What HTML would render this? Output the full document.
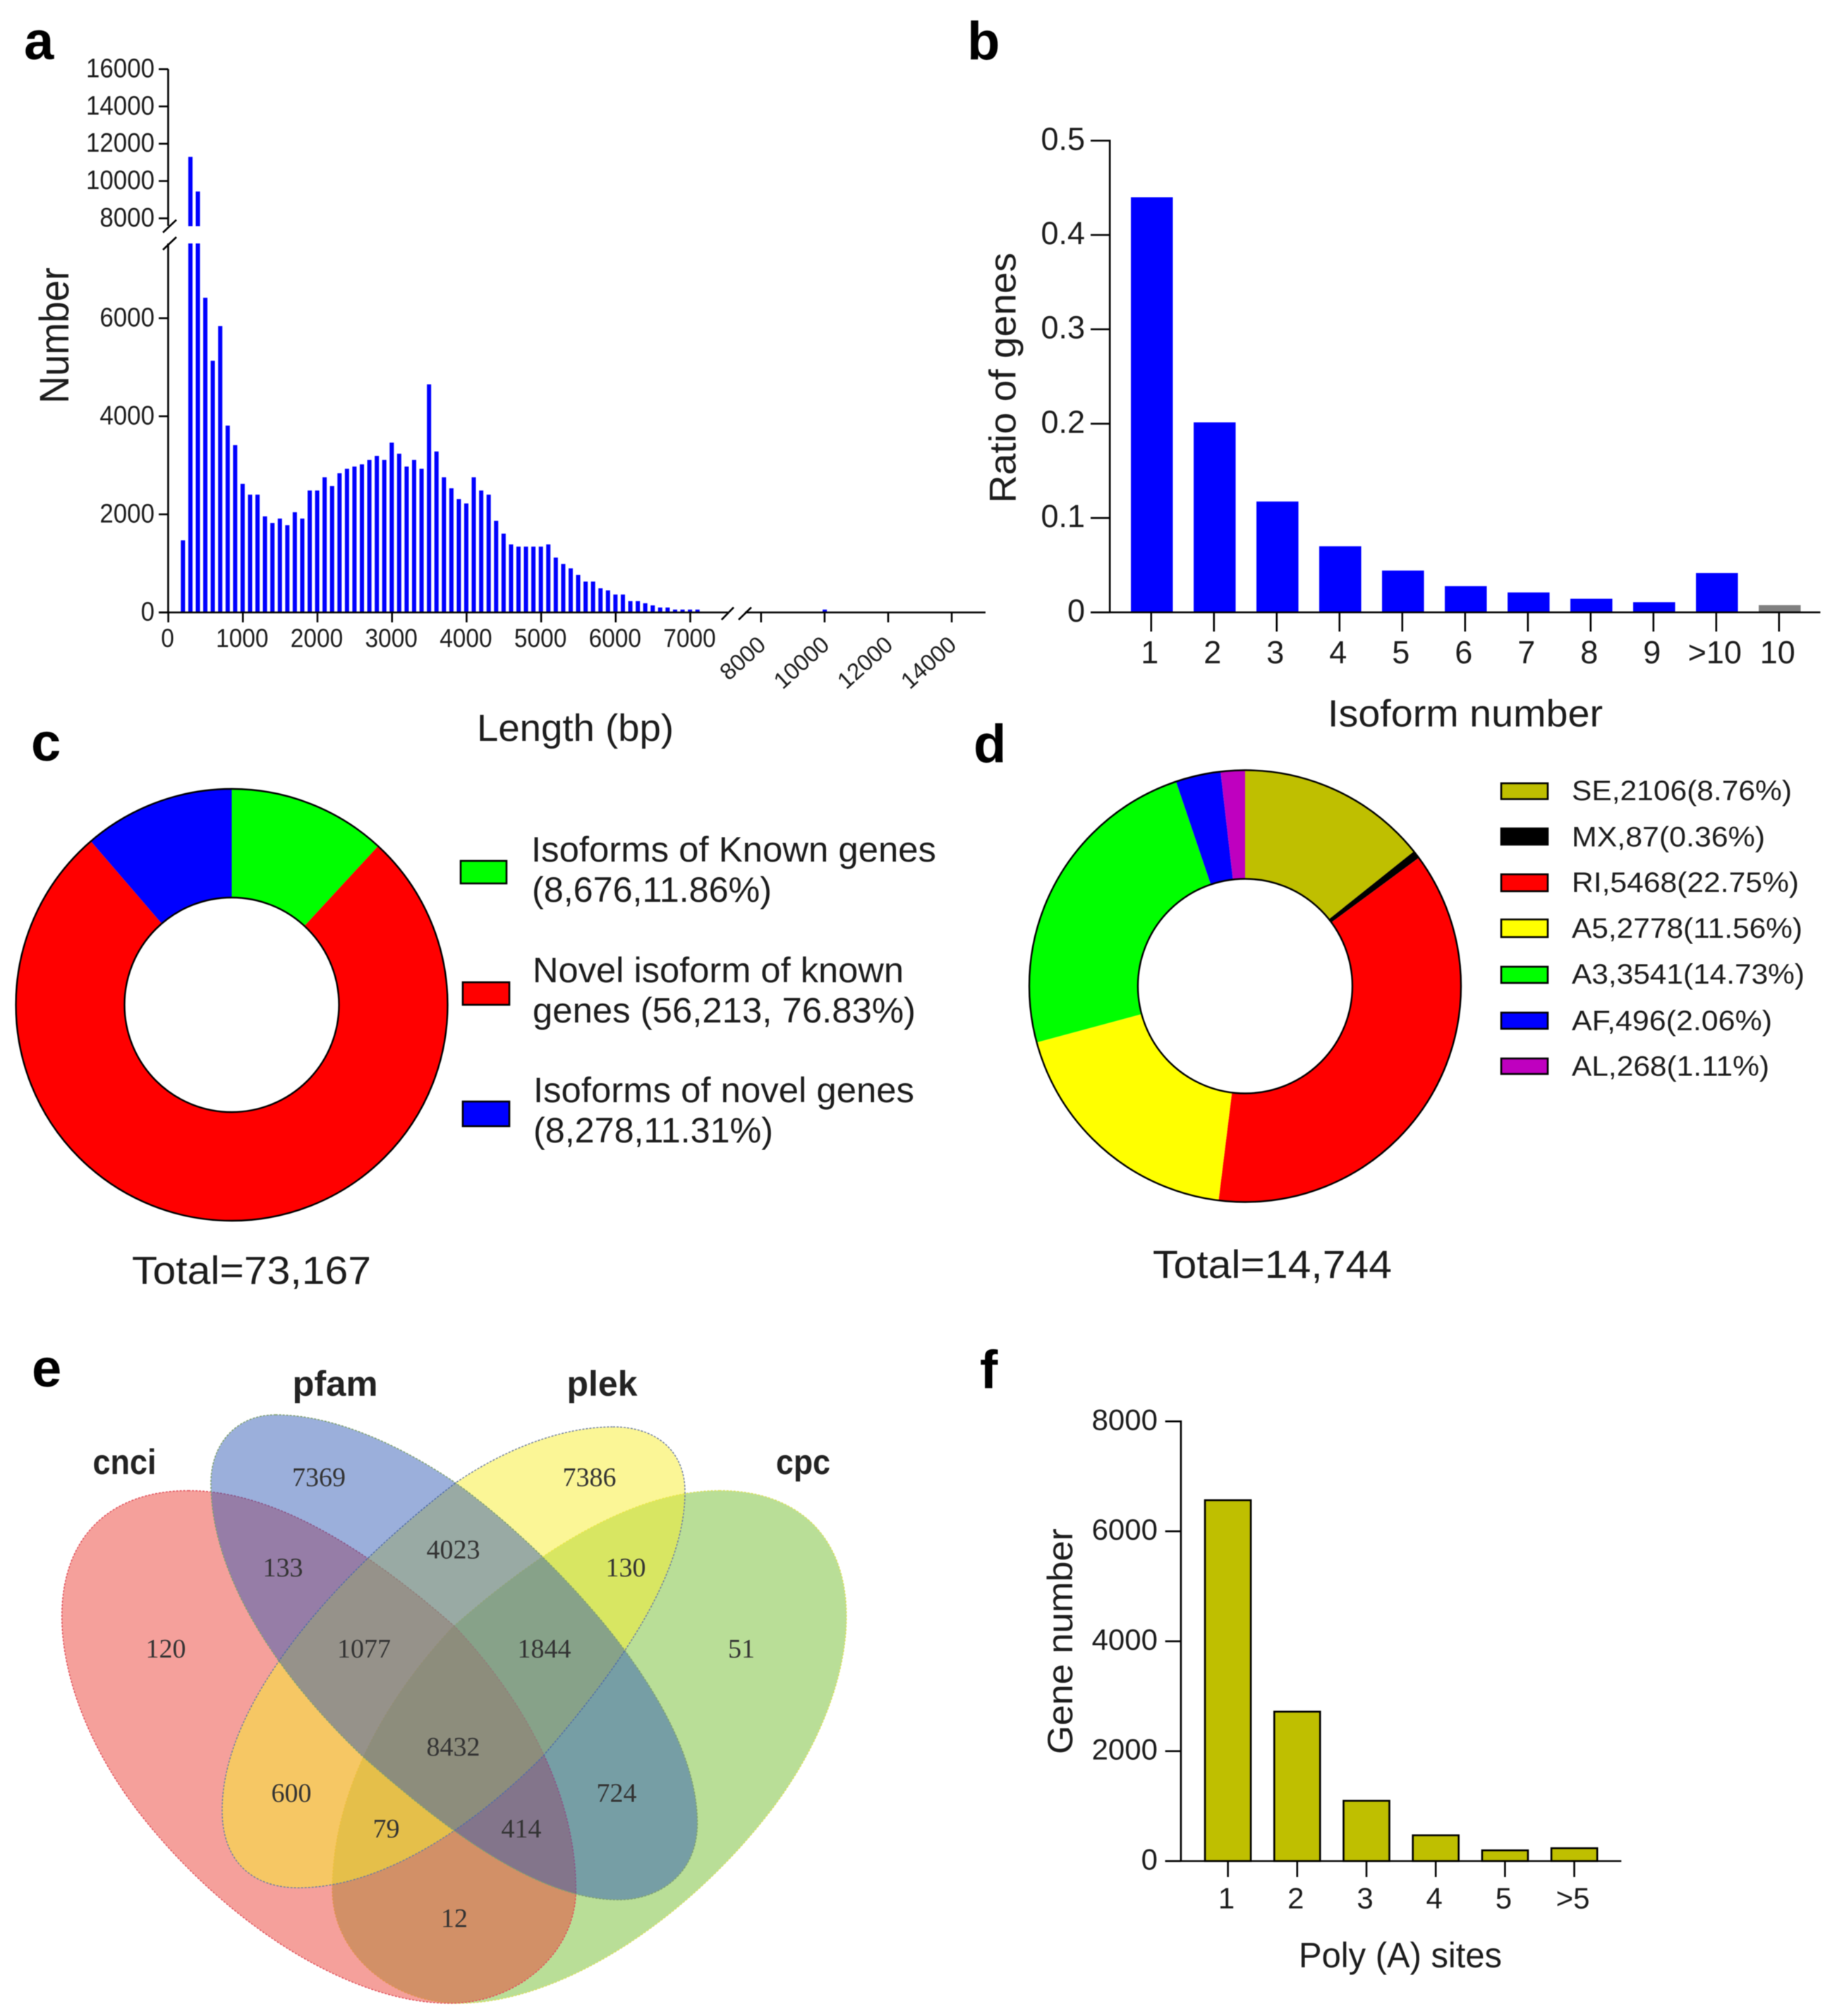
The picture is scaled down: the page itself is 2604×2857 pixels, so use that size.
<!DOCTYPE html>
<html lang="en">
<head>
<meta charset="utf-8">
<title>Isoform analysis figure</title>
<style>
html,body{margin:0;padding:0;background:#fff}
#figure{display:block;filter:blur(.6px)}
text{font-family:"Liberation Sans",Arial,sans-serif;fill:#1c1c1c}
.panel-letter{font-weight:700;font-size:76px;fill:#000}
.venn-num{font-family:"Liberation Serif",serif;font-size:38px;text-anchor:middle;fill:#333}
.venn-title{font-family:"Liberation Sans",sans-serif;font-weight:700;font-size:50px;fill:#222}
.axis{stroke:#000;stroke-width:2.6;fill:none}
.venn-shape{stroke-width:1.5;stroke-dasharray:3 2;vector-effect:non-scaling-stroke}
.swatch{stroke:#000;stroke-width:2.6}
</style>
</head>
<body>
<svg id="figure" xmlns="http://www.w3.org/2000/svg" width="2604" height="2857" viewBox="0 0 2604 2857">
<rect width="2604" height="2857" fill="#fff"/>

<text class="panel-letter" x="34" y="84">a</text>
<text class="panel-letter" x="1371" y="84">b</text>
<text class="panel-letter" x="44" y="1078">c</text>
<text class="panel-letter" x="1380" y="1080">d</text>
<text class="panel-letter" x="45" y="1965">e</text>
<text class="panel-letter" x="1389" y="1967">f</text>

<!-- Panel a -->
<g id="panel-a">
  <text transform="translate(97,475.5) rotate(-90)" text-anchor="middle" font-size="58" textLength="193" lengthAdjust="spacingAndGlyphs">Number</text>
  <text x="815.5" y="1050" text-anchor="middle" font-size="54" textLength="279" lengthAdjust="spacingAndGlyphs">Length (bp)</text>
  <g id="a-bars"></g>
  <path class="axis" d="M238.4 98V320M238.4 345V869M225 867.9H1032M1056 867.9H1397"/>
  <path class="axis" d="M231 329.5L250 311.6M231 354L250 336M1022.8 878.3L1040 860.7M1047 878.3L1065 860.7"/>
  <g id="a-ticks"></g>
</g>

<!-- Panel b -->
<g id="panel-b">
  <text transform="translate(1439.5,535.5) rotate(-90)" text-anchor="middle" font-size="53" textLength="355" lengthAdjust="spacingAndGlyphs">Ratio of genes</text>
  <text x="2077" y="1029.5" text-anchor="middle" font-size="54" textLength="390" lengthAdjust="spacingAndGlyphs">Isoform number</text>
  <g id="b-bars"></g>
  <path class="axis" d="M1573.2 198V869M1546 867.8H2580.4"/>
  <g id="b-ticks"></g>
</g>

<!-- Panel c -->
<g id="panel-c">
  <g id="c-slices"></g>
  <circle cx="328.5" cy="1424" r="306" fill="none" stroke="#000" stroke-width="2.4"/>
  <circle cx="328.5" cy="1424" r="152" fill="#fff" stroke="#000" stroke-width="2.4"/>
  <rect class="swatch" x="653" y="1220" width="65" height="32" fill="#00ff00"/>
  <rect class="swatch" x="656" y="1392" width="66" height="32" fill="#ff0000"/>
  <rect class="swatch" x="656" y="1561" width="66" height="35" fill="#0000ff"/>
  <text x="753" y="1221" font-size="50" textLength="574" lengthAdjust="spacingAndGlyphs">Isoforms of Known genes</text>
  <text x="754" y="1278" font-size="50" textLength="340" lengthAdjust="spacingAndGlyphs">(8,676,11.86%)</text>
  <text x="755" y="1392" font-size="50" textLength="526" lengthAdjust="spacingAndGlyphs">Novel isoform of known</text>
  <text x="755" y="1449" font-size="50" textLength="543" lengthAdjust="spacingAndGlyphs">genes (56,213, 76.83%)</text>
  <text x="756" y="1562" font-size="50" textLength="540" lengthAdjust="spacingAndGlyphs">Isoforms of novel genes</text>
  <text x="756" y="1619" font-size="50" textLength="340" lengthAdjust="spacingAndGlyphs">(8,278,11.31%)</text>
  <text x="187" y="1819.5" font-size="56" textLength="339" lengthAdjust="spacingAndGlyphs">Total=73,167</text>
</g>

<!-- Panel d -->
<g id="panel-d">
  <g id="d-slices"></g>
  <circle cx="1765" cy="1397.5" r="306" fill="none" stroke="#000" stroke-width="2.4"/>
  <circle cx="1765" cy="1397.5" r="152" fill="#fff" stroke="#000" stroke-width="2.4"/>
  <rect class="swatch" x="2128" y="1110" width="66" height="22.5" fill="#bfbf00"/>
  <rect class="swatch" x="2128" y="1174" width="66" height="23" fill="#000"/>
  <rect class="swatch" x="2128" y="1239" width="66" height="24" fill="#ff0000"/>
  <rect class="swatch" x="2128" y="1303" width="66" height="25" fill="#ffff00"/>
  <rect class="swatch" x="2128" y="1370" width="66" height="23" fill="#00ff00"/>
  <rect class="swatch" x="2128" y="1435" width="66" height="23" fill="#0000ff"/>
  <rect class="swatch" x="2128" y="1500" width="66" height="22" fill="#bf00bf"/>
  <text x="2228" y="1134" font-size="40" textLength="312" lengthAdjust="spacingAndGlyphs">SE,2106(8.76%)</text>
  <text x="2228" y="1199.5" font-size="40" textLength="274" lengthAdjust="spacingAndGlyphs">MX,87(0.36%)</text>
  <text x="2228" y="1264" font-size="40" textLength="322" lengthAdjust="spacingAndGlyphs">RI,5468(22.75%)</text>
  <text x="2228" y="1329" font-size="40" textLength="327" lengthAdjust="spacingAndGlyphs">A5,2778(11.56%)</text>
  <text x="2228" y="1394" font-size="40" textLength="330" lengthAdjust="spacingAndGlyphs">A3,3541(14.73%)</text>
  <text x="2228" y="1460" font-size="40" textLength="284" lengthAdjust="spacingAndGlyphs">AF,496(2.06%)</text>
  <text x="2228" y="1524.5" font-size="40" textLength="280" lengthAdjust="spacingAndGlyphs">AL,268(1.11%)</text>
  <text x="1634" y="1811" font-size="56" textLength="339" lengthAdjust="spacingAndGlyphs">Total=14,744</text>
</g>

<!-- Panel e -->
<g id="panel-e">
  <g transform="translate(0,1900) scale(0.7972,0.6105)">
    <path class="venn-shape" transform="translate(1615,0) scale(-1,1)" fill="#73bd2f" fill-opacity=".5" stroke="#d8e060" d="M335 348C480 348 640 470 810 665C900 790 1022 1010 1024 1270C1026 1420 920 1538 800 1538C620 1538 400 1350 250 1100C160 950 110 780 110 640C110 450 200 348 335 348Z"/>
    <path class="venn-shape" fill="#ec4137" fill-opacity=".5" stroke="#e0505a" d="M335 348C480 348 640 470 810 665C900 790 1022 1010 1024 1270C1026 1420 920 1538 800 1538C620 1538 400 1350 250 1100C160 950 110 780 110 640C110 450 200 348 335 348Z"/>
    <path class="venn-shape" fill="#f7ed2d" fill-opacity=".5" stroke="#6f7fa0" d="M1090 200C1170 200 1218 260 1218 350C1218 560 1080 790 965 965C870 1090 700 1270 530 1270C450 1270 395 1210 395 1090C395 830 610 530 810 330C900 250 1000 200 1090 200Z"/>
    <path class="venn-shape" fill="#2e58b4" fill-opacity=".48" stroke="#7fa070" d="M490 172C600 172 720 250 810 330C960 470 1240 830 1240 1120C1240 1240 1170 1298 1100 1298C950 1298 780 1120 645 965C520 810 375 570 375 330C375 240 420 172 490 172Z"/>
  </g>
  <text class="venn-title" x="414.5" y="1978" textLength="121" lengthAdjust="spacingAndGlyphs">pfam</text>
  <text class="venn-title" x="803.5" y="1978" textLength="100" lengthAdjust="spacingAndGlyphs">plek</text>
  <text class="venn-title" x="131.5" y="2089" textLength="90" lengthAdjust="spacingAndGlyphs">cnci</text>
  <text class="venn-title" x="1100" y="2089" textLength="77" lengthAdjust="spacingAndGlyphs">cpc</text>
  <text class="venn-num" x="452" y="2106">7369</text>
  <text class="venn-num" x="835.5" y="2106">7386</text>
  <text class="venn-num" x="401" y="2234">133</text>
  <text class="venn-num" x="642.5" y="2208.5">4023</text>
  <text class="venn-num" x="887" y="2234">130</text>
  <text class="venn-num" x="235" y="2349">120</text>
  <text class="venn-num" x="516" y="2349">1077</text>
  <text class="venn-num" x="771.5" y="2349">1844</text>
  <text class="venn-num" x="1051" y="2349">51</text>
  <text class="venn-num" x="642.5" y="2488">8432</text>
  <text class="venn-num" x="413" y="2553.5">600</text>
  <text class="venn-num" x="874" y="2553.5">724</text>
  <text class="venn-num" x="547.5" y="2604">79</text>
  <text class="venn-num" x="739" y="2604">414</text>
  <text class="venn-num" x="644" y="2731">12</text>
</g>

<!-- Panel f -->
<g id="panel-f">
  <text transform="translate(1520,2326) rotate(-90)" text-anchor="middle" font-size="50" textLength="320" lengthAdjust="spacingAndGlyphs">Gene number</text>
  <text x="1985" y="2788" text-anchor="middle" font-size="50" textLength="288" lengthAdjust="spacingAndGlyphs">Poly (A) sites</text>
  <g id="f-bars"></g>
  <path class="axis" d="M1674 2013V2638.5M1651.7 2637.5H2298.3"/>
  <g id="f-ticks"></g>
</g>
</svg>

<script>
// Panel a data
const aBins = [200,300,400,500,600,700,800,900,1000,1100,1200,1300,1400,1500,1600,1700,1800,1900,2000,2100,2200,2300,2400,2500,2600,2700,2800,2900,3000,3100,3200,3300,3400,3500,3600,3700,3800,3900,4000,4100,4200,4300,4400,4500,4600,4700,4800,4900,5000,5100,5200,5300,5400,5500,5600,5700,5800,5900,6000,6100,6200,6300,6400,6500,6600,6700,6800,6900,7000,7100];
const aCounts = [1471,11296,9438,6417,5132,5839,3809,3411,2621,2402,2402,1959,1824,1914,1779,2043,1914,2486,2486,2756,2576,2839,2929,2974,3019,3109,3192,3109,3462,3237,2974,3109,2929,4651,3282,2756,2531,2312,2222,2756,2486,2402,1869,1606,1387,1342,1342,1342,1342,1387,1118,989,899,764,629,629,493,450,365,365,230,230,187,144,100,100,58,58,58,58];
const aLongBins = [10000];
const aLongCounts = [58];
const aLowerTicks = [0,2000,4000,6000];
const aUpperTicks = [8000,10000,12000,14000,16000];
const aXTicksNear = [0,1000,2000,3000,4000,5000,6000,7000];
const aXTicksFar = [8000,10000,12000,14000];

// Panel b data
const bCategories = ['1','2','3','4','5','6','7','8','9','>10','10'];
const bRatios = [0.44,0.2014,0.1175,0.07,0.0443,0.0278,0.0211,0.0144,0.0108,0.0417,0.0077];
const bYTicks = [0,0.1,0.2,0.3,0.4,0.5];
const bYTickLabels = ['0','0.1','0.2','0.3','0.4','0.5'];

// Panel c data
const cLabels = ['known','novel-isoform','novel-genes'];
const cCounts = [8676,56213,8278];

// Panel d data
const dLabels = ['se','mx','ri','a5','a3','af','al'];
const dCounts = [2106,87,5468,2778,3541,496,268];

// Panel f data
const fCategories = ['1','2','3','4','5','>5'];
const fCounts = [6566,2719,1097,470,196,235];
const fYTicks = [0,2000,4000,6000,8000];

// Colours (style, kept apart from the data)
const cColors = ['#00ff00','#ff0000','#0000ff'];
const dColors = ['#bfbf00','#000000','#ff0000','#ffff00','#00ff00','#0000ff','#bf00bf'];

const SVGNS = 'http://www.w3.org/2000/svg';
function mk(tag, parentId, props) {
  const node = document.createElementNS(SVGNS, tag);
  for (const k in props) node.setAttribute(k, props[k]);
  document.getElementById(parentId).appendChild(node);
  return node;
}

// ---- Panel a scales ----
const axLow = v => 238.6 + 0.1057 * v;
const axFar = v => 1078.8 + (v - 8000) * 0.04505;
const ayLow = v => 867.9 - 0.0695 * v;
const ayUp = v => 309.4 - (v - 8000) * 0.02643;
const aBreakV = 7500;
const aLowerTop = 345;
const aUpperBottom = 320.5;
const aBarW = 6;

aBins.forEach((bin, i) => {
  const v = aCounts[i];
  const x = axLow(bin) - aBarW / 2 - 0.4;
  const top = v > aBreakV ? aLowerTop : ayLow(v);
  const bar = mk('rect', 'a-bars', {x: x, y: top, width: aBarW, height: ayLow(0) - top, fill: '#0000ff'});
  
  
  if (v > aBreakV) {
    const upTop = ayUp(v);
    const upper = mk('rect', 'a-bars', {x: x, y: upTop, width: aBarW, height: aUpperBottom - upTop, fill: '#0000ff'});
    
    
  }
});
aLongBins.forEach((bin, i) => {
  const top = ayLow(aLongCounts[i]);
  const bar = mk('rect', 'a-bars', {x: axFar(bin) - 2.8, y: top, width: aBarW, height: ayLow(0) - top, fill: '#0000ff'});
  
  
});
aLowerTicks.concat(aUpperTicks).forEach(v => {
  const y = v >= 8000 ? ayUp(v) : ayLow(v);
  const mark = mk('line', 'a-ticks', {x1: 225, x2: 238.4, y1: y, y2: y, class: 'axis'});
  
  
  const label = mk('text', 'a-ticks', {x: 219, y: y + 11.5, 'text-anchor': 'end', 'font-size': 38, textLength: String(v).length * 19.4, lengthAdjust: 'spacingAndGlyphs'});
  label.textContent = v;
  
  
});
aXTicksNear.forEach(v => {
  const x = axLow(v);
  const mark = mk('line', 'a-ticks', {x1: x, x2: x, y1: 867.9, y2: 882, class: 'axis'});
  
  
  const label = mk('text', 'a-ticks', {x: x - 1, y: 917, 'text-anchor': 'middle', 'font-size': 37, textLength: String(v).length * 18.6, lengthAdjust: 'spacingAndGlyphs'});
  label.textContent = v;
  
  
});
aXTicksFar.forEach(v => {
  const x = axFar(v);
  const mark = mk('line', 'a-ticks', {x1: x, x2: x, y1: 867.9, y2: 882, class: 'axis'});
  
  
  const label = mk('text', 'a-ticks', {'text-anchor': 'end', 'dominant-baseline': 'central', 'font-size': 33, transform: 'translate(' + (x + 1) + ',908) rotate(-42)'});
  label.textContent = v;
  
  
});

// ---- Panel b scales ----
const bx = i => 1632.8 + i * 89;
const by = v => 867.8 - v * 1337;
const bBarW = 59.5;
const bBarColor = c => c === '10' ? '#808080' : '#0000ff';
bCategories.forEach((cat, i) => {
  const top = by(bRatios[i]);
  const bar = mk('rect', 'b-bars', {x: bx(i) - bBarW / 2, y: top, width: bBarW, height: by(0) - top, fill: bBarColor(cat)});
  
  
  const mark = mk('line', 'b-ticks', {x1: bx(i) - 1, x2: bx(i) - 1, y1: 867.8, y2: 895, class: 'axis'});
  
  
  const label = mk('text', 'b-ticks', {x: bx(i) - 3, y: 940, 'text-anchor': 'middle', 'font-size': 45});
  label.textContent = cat;
  
  
});
bYTicks.forEach((v, i) => {
  const y = by(v);
  const mark = mk('line', 'b-ticks', {x1: 1546, x2: 1573.2, y1: y, y2: y, class: 'axis'});
  
  
  const label = mk('text', 'b-ticks', {x: 1538, y: y + 13, 'text-anchor': 'end', 'font-size': 45});
  label.textContent = bYTickLabels[i];
  
  
});

// ---- Donuts ----
function ringSlice(cx, cy, r0, r1, a0, a1) {
  const pt = (r, a) => (cx + r * Math.sin(a)).toFixed(2) + ' ' + (cy - r * Math.cos(a)).toFixed(2);
  const large = (a1 - a0) > Math.PI ? 1 : 0;
  return 'M' + pt(r1, a0) + 'A' + r1 + ' ' + r1 + ' 0 ' + large + ' 1 ' + pt(r1, a1) +
         'L' + pt(r0, a1) + 'A' + r0 + ' ' + r0 + ' 0 ' + large + ' 0 ' + pt(r0, a0) + 'Z';
}
function sumOf(list) { return list.reduce((s, n) => s + n, 0); }

let cAngle = 0;
const cTotal = sumOf(cCounts);
cCounts.forEach((n, i) => {
  const sweep = n / cTotal * 2 * Math.PI;
  const slice = mk('path', 'c-slices', {d: ringSlice(328.5, 1424, 152, 306, cAngle, cAngle + sweep), fill: cColors[i]});
  
  
  cAngle += sweep;
});

let dAngle = 0;
const dTotal = sumOf(dCounts);
dCounts.forEach((n, i) => {
  const sweep = n / dTotal * 2 * Math.PI;
  const slice = mk('path', 'd-slices', {d: ringSlice(1765, 1397.5, 152, 306, dAngle, dAngle + sweep), fill: dColors[i]});
  
  
  dAngle += sweep;
});

// ---- Panel f scales ----
const fx = i => 1740.6 + i * 98.2;
const fy = v => 2637.5 - v * 0.0779;
const fBarW = 65;
fCategories.forEach((cat, i) => {
  const top = fy(fCounts[i]);
  const bar = mk('rect', 'f-bars', {x: fx(i) - fBarW / 2, y: top, width: fBarW, height: fy(0) - top, fill: '#bfbf00', stroke: '#000', 'stroke-width': 2.6});
  
  
  const mark = mk('line', 'f-ticks', {x1: fx(i), x2: fx(i), y1: 2637.5, y2: 2660, class: 'axis'});
  
  
  const label = mk('text', 'f-ticks', {x: fx(i) - 2, y: 2704.5, 'text-anchor': 'middle', 'font-size': 42});
  label.textContent = cat;
  
  
});
fYTicks.forEach(v => {
  const y = fy(v);
  const mark = mk('line', 'f-ticks', {x1: 1651.7, x2: 1674, y1: y, y2: y, class: 'axis'});
  
  
  const label = mk('text', 'f-ticks', {x: 1641, y: y + 12, 'text-anchor': 'end', 'font-size': 42});
  label.textContent = v;
  
  
});
</script>
</body>
</html>
